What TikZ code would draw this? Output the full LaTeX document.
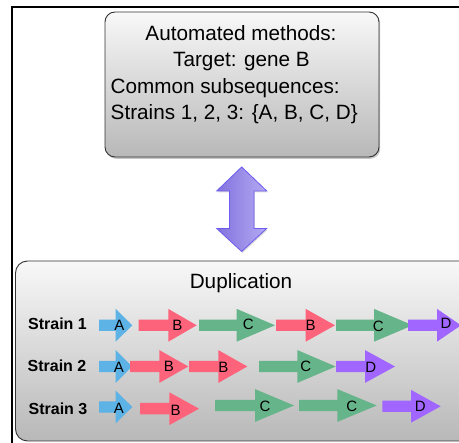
\documentclass[tikz,border=0pt]{standalone}
\usepackage{fontspec}
\setmainfont{Liberation Sans}
\usetikzlibrary{shadows,calc}

\definecolor{geneA}{RGB}{93,178,230}
\definecolor{geneB}{RGB}{253,99,122}
\definecolor{geneC}{RGB}{102,180,138}
\definecolor{geneD}{RGB}{160,102,255}
\definecolor{boxtop}{RGB}{248,248,248}
\definecolor{boxbot}{RGB}{184,184,184}
\definecolor{arrowdark}{RGB}{130,114,222}
\definecolor{arrowlight}{RGB}{180,170,242}
\definecolor{arrowedge}{RGB}{108,92,240}

% block arrow for one gene: name, colour, row y, shaft start, head base, tip, label x, label y, letter
\newcommand\genearrow[9]{%
  \fill[#2] (#4,#3-5.7) -- (#5,#3-5.7) -- (#5,#3-16.4) -- (#6,#3)
    -- (#5,#3+16.4) -- (#5,#3+5.7) -- (#4,#3+5.7) -- cycle;
  \node[genelabel] (#1) at (#7,#8) {#9};}

\begin{document}
\begin{tikzpicture}[x=1pt,y=-1pt,
  panel/.style={draw=black!80, line width=0.9pt, rounded corners=10pt,
    top color=boxtop, bottom color=boxbot, inner sep=0pt},
  bigtext/.style={font=\fontsize{20.7}{26}\selectfont, inner sep=0pt},
  strainlabel/.style={font=\fontsize{16}{18}\selectfont\bfseries, inner sep=0pt},
  genelabel/.style={font=\fontsize{15}{17}\selectfont, inner sep=0pt}]
\useasboundingbox (0,0) rectangle (459,443);
\clip (0,0) rectangle (459,443);

% outer frame
\draw[line width=1.6pt] (12,470) -- (12,7) -- (480,7);

% upper panel
\node[panel, minimum width=274pt, minimum height=145pt,
  drop shadow={shadow xshift=1.2pt, shadow yshift=-1.8pt, opacity=0.45}]
  (methods) at (242,84.5) {};
\node[bigtext, anchor=base] (l1) at (241,40.5) {Automated methods:};
\node[bigtext, anchor=base] (l2) at (241.5,67) {Target: gene B};
\node[bigtext, anchor=base west] (l3) at (110.5,93.5) {Common subsequences:};
\node[bigtext, anchor=base west] (l4) at (110.5,120) {Strains 1, 2, 3: \{A, B, C, D\}};

% lower panel
\node[panel, rounded corners=12pt, minimum width=470pt, minimum height=180pt]
  (dup) at (250.5,351) {};
\node[bigtext, anchor=base] (duptitle) at (241,288.3) {Duplication};

% double block arrow between the panels
\coordinate (dt) at ($(methods.south)+(-0.3,9.5)$);
\coordinate (db) at ($(dt)+(0,84.5)$);
\path[left color=arrowdark, right color=arrowlight, draw=arrowedge, line width=0.8pt,
  drop shadow={shadow xshift=0.8pt, shadow yshift=-1.5pt, opacity=0.3}]
  (dt) -- ($(dt)+(25,24)$) -- ($(dt)+(12.3,24)$) -- ($(db)+(12.3,-23)$)
  -- ($(db)+(25,-23)$) -- (db) -- ($(db)+(-25,-23)$) -- ($(db)+(-12.3,-23)$)
  -- ($(dt)+(-12.3,24)$) -- ($(dt)+(-25,24)$) -- cycle;

% strain labels
\node[strainlabel] (s1) at (57.5,323.3) {Strain 1};
\node[strainlabel] (s2) at (57,366) {Strain 2};
\node[strainlabel] (s3) at (58,408.3) {Strain 3};

% strain 1
\genearrow{a1}{geneA}{325.3}{99}{115.7}{132.3}{119.3}{325}{A}
\genearrow{b1}{geneB}{325.3}{138.7}{168.3}{196.7}{177.3}{325.7}{B}
\genearrow{c1}{geneC}{325.3}{199}{236.7}{275}{248.3}{324}{C}
\genearrow{b1x}{geneB}{325.3}{276}{305.7}{335}{310.7}{325.7}{B}
\genearrow{c1x}{geneC}{325.3}{336}{374}{412.7}{378.3}{326}{C}
\genearrow{d1}{geneD}{325.3}{408}{437}{461}{446}{323.3}{D}

% strain 2
\genearrow{a2}{geneA}{366.5}{99}{115.7}{132}{119}{367.7}{A}
\genearrow{b2}{geneB}{366.5}{130}{159.3}{188.3}{169}{366}{B}
\genearrow{b2x}{geneB}{366.5}{189}{218.3}{247.3}{223.5}{367.3}{B}
\genearrow{c2}{geneC}{366.5}{259}{297.3}{335.7}{305.7}{366.7}{C}
\genearrow{d2}{geneD}{366.5}{336}{365}{395}{370.7}{367.7}{D}

% strain 3
\genearrow{a3}{geneA}{407}{99}{115.7}{132.3}{119}{408.3}{A}
\genearrow{b3}{geneB}{408.7}{140}{169.3}{199}{175.7}{410}{B}
\genearrow{c3}{geneC}{405.5}{215}{255}{294}{265}{406.7}{C}
\genearrow{c3x}{geneC}{405.5}{299}{337.3}{376.7}{351.7}{406.7}{C}
\genearrow{d3}{geneD}{406.3}{382.3}{411}{440.7}{420.3}{406.7}{D}
\end{tikzpicture}
\end{document}
